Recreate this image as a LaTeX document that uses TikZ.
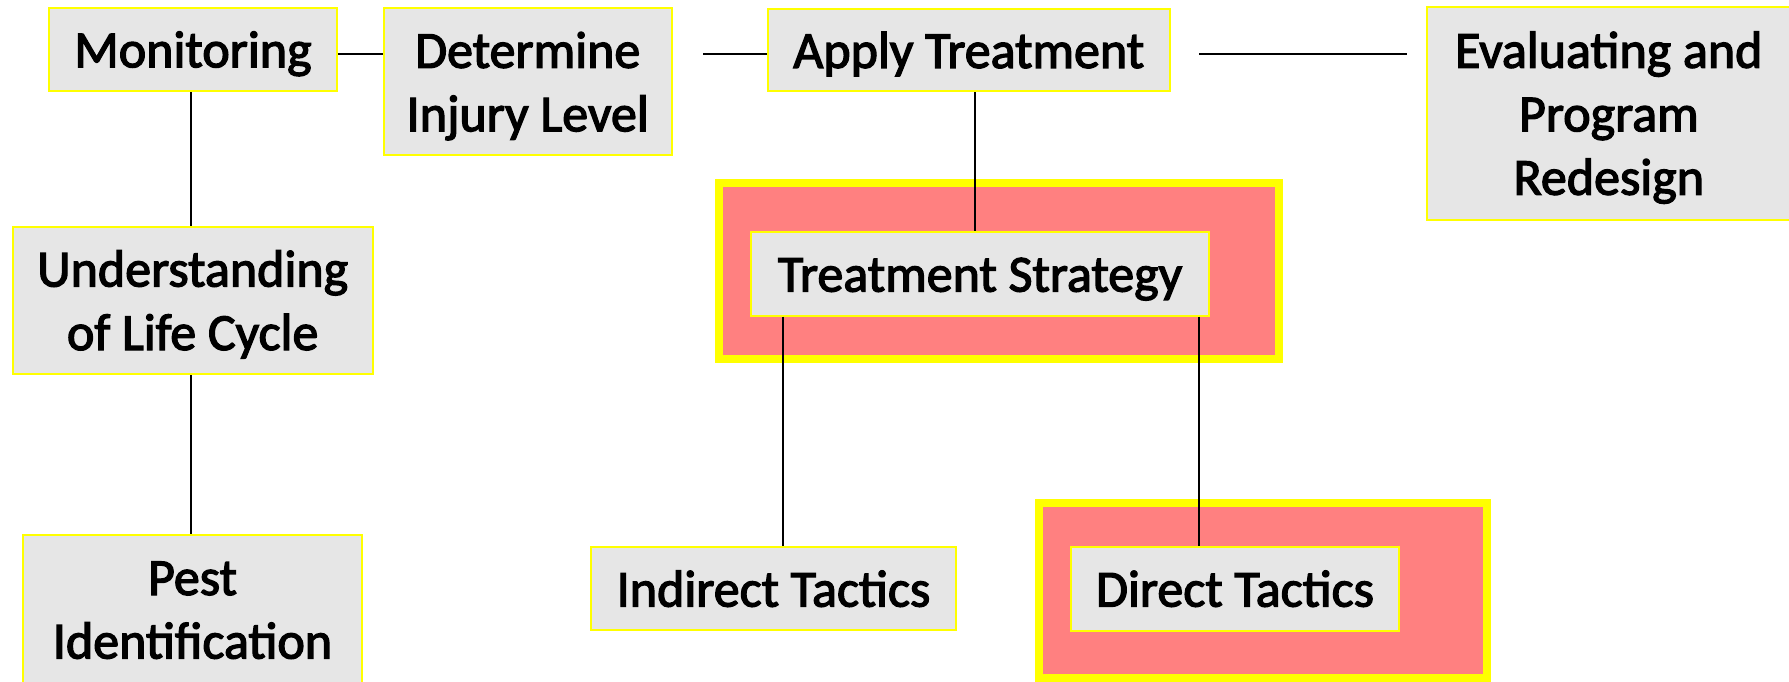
\documentclass[tikz,border=0pt]{standalone}
\usepackage{fontspec}
\setmainfont{Carlito}
\newfontfamily\boxfont[FakeBold=2.5]{Carlito}
\definecolor{ylw}{RGB}{255,255,0}
\definecolor{gbox}{RGB}{230,230,230}
\definecolor{rbox}{RGB}{255,128,128}
\newcommand\mystrut{\rule[-14pt]{0pt}{63.5pt}}
\tikzset{
  box/.style={draw=ylw, line width=2pt, fill=gbox, inner sep=0pt, align=center,
    font=\boxfont\fontsize{52pt}{63.5pt}\selectfont},
  grp/.style={draw=ylw, line width=8pt, fill=rbox, inner sep=0pt},
  conn/.style={line width=1.6pt, black},
  thinconn/.style={line width=1.3pt, black}
}
\begin{document}
\begin{tikzpicture}[x=1pt,y=-1pt]
\useasboundingbox (0,0) rectangle (1789,682);
\clip (0,0) rectangle (1789,682);
% group frames
\node[grp, minimum width=560pt, minimum height=175.7pt] (tsg) at (999,270.85) {};
\node[grp, minimum width=448pt, minimum height=175pt] (dirg) at (1263,590.5) {};
% boxes
\node[box, minimum width=288.6pt, minimum height=83.6pt] (mon) at (193,49.5) {Monitoring\mystrut};
\node[box, minimum width=288pt, minimum height=147pt] (det) at (527.7,81.8) {Determine\mystrut\\Injury Level\mystrut};
\node[box, minimum width=402pt, minimum height=82.3pt] (app) at (968.7,50.2) {Apply Treatment\mystrut};
\node[box, minimum width=364.3pt, minimum height=212.4pt] (eval) at (1608.8,113.5) {Evaluating and\mystrut\\Program\mystrut\\Redesign\mystrut};
\node[box, minimum width=360pt, minimum height=147pt] (und) at (192.7,300.5) {Understanding\mystrut\\of Life Cycle\mystrut};
\node[box, minimum width=339pt, minimum height=148pt] (pest) at (192.5,609) {Pest\mystrut\\Identification\mystrut};
\node[box, minimum width=458pt, minimum height=83.7pt] (ts) at (980,273.8) {Treatment Strategy\mystrut};
\node[box, minimum width=364.4pt, minimum height=83pt] (ind) at (773.5,588.8) {Indirect Tactics\mystrut};
\node[box, minimum width=328pt, minimum height=83.7pt] (dir) at (1235,588.8) {Direct Tactics\mystrut};
% connectors along the top row
\coordinate (m1) at ([yshift=-4.8pt]mon.east);
\draw[conn] (m1) -- (m1 -| det.west);
\coordinate (d1) at ([yshift=-4.1pt]app.west);
\draw[conn, shorten <=30.6pt] (d1 -| det.east) -- (d1);
\coordinate (a1) at ([yshift=-4.1pt]app.east);
\draw[conn, shorten <=28.3pt, shorten >=19pt] (a1) -- (a1 -| eval.west);
% left column
\coordinate (m2) at ([xshift=-2pt]mon.south);
\draw[conn] (m2) -- (m2 |- und.north);
\coordinate (u2) at ([xshift=-1.7pt]und.south);
\draw[conn] (u2) -- (u2 |- pest.north);
% treatment branch
\coordinate (a2) at ([xshift=6.3pt]app.south);
\draw[thinconn] (a2) -- (a2 |- ts.north);
\coordinate (i1) at ([xshift=9.5pt]ind.north);
\draw[conn] (i1 |- ts.south) -- (i1);
\coordinate (r1) at ([xshift=-36pt]dir.north);
\draw[conn] (r1 |- ts.south) -- (r1);
\end{tikzpicture}
\end{document}
